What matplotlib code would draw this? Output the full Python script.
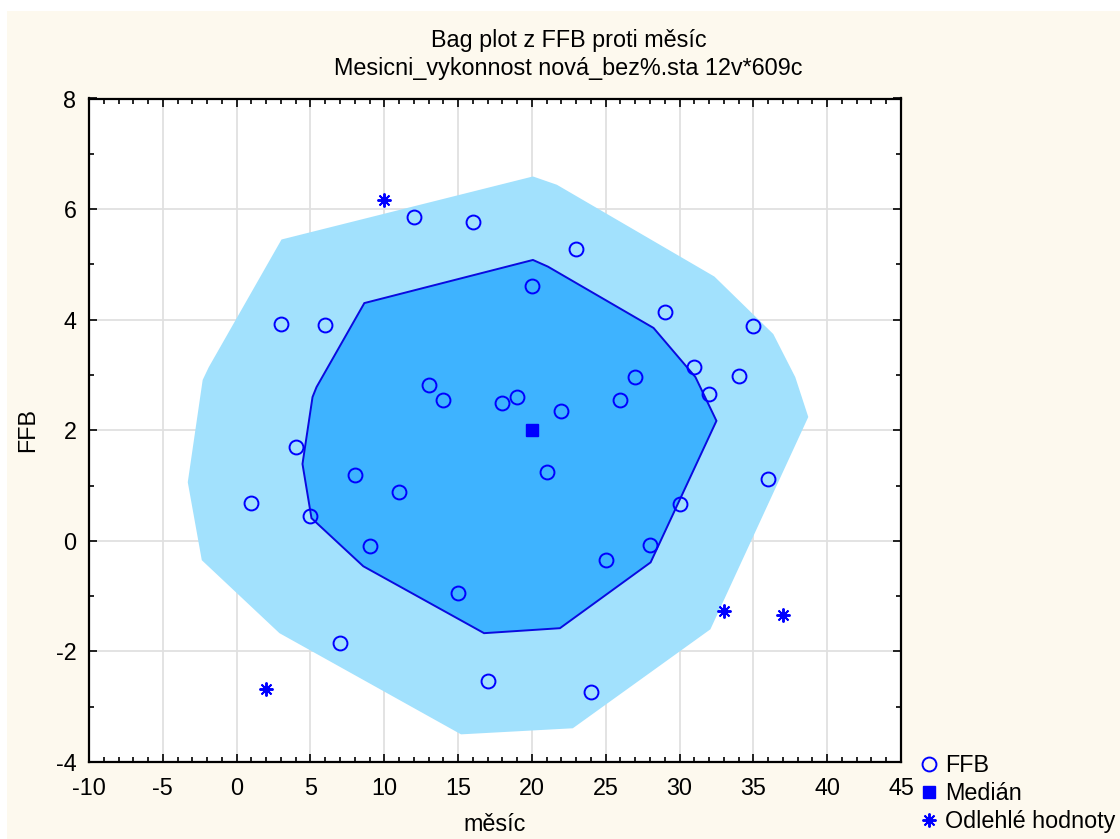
import matplotlib
matplotlib.use("Agg")
import matplotlib.pyplot as plt
from matplotlib.lines import Line2D
from matplotlib.patches import Polygon, Rectangle
from matplotlib.ticker import MultipleLocator
import numpy as np

# ---- data -------------------------------------------------------------
mesic = list(range(1, 38))
ffb = [0.69, -2.68, 3.92, 1.70, 0.45, 3.91, -1.84, 1.19, -0.09, 6.16,
       0.88, 5.85, 2.81, 2.55, -0.95, 5.77, -2.54, 2.50, 2.60, 4.61,
       1.25, 2.34, 5.27, -2.74, -0.34, 2.54, 2.96, -0.07, 4.13, 0.66,
       3.15, 2.65, -1.26, 2.98, 3.89, 1.12, -1.35]
odlehle_mesice = [2, 10, 33, 37]
median_xy = (20, 2.0)

# bag (inner hull) vertices
bag_x = [8.65, 20.07, 21.08, 28.24, 31.08, 32.50, 28.04, 21.90, 16.76,
         8.58, 5.07, 4.46, 5.14, 5.41]
bag_y = [4.30, 5.08, 4.96, 3.85, 2.96, 2.17, -0.39, -1.58, -1.67,
         -0.46, 0.41, 1.39, 2.60, 2.78]

# fence (outer hull) vertices
fence_x = [3.04, 20.07, 21.69, 32.36, 36.35, 37.84, 38.72, 32.09, 22.77,
           15.20, 2.90, -2.36, -3.31, -2.30, -1.89]
fence_y = [5.45, 6.59, 6.44, 4.78, 3.74, 2.96, 2.24, -1.60, -3.39,
           -3.50, -1.67, -0.35, 1.06, 2.91, 3.14]

x_ticks = list(range(-10, 46, 5))
y_ticks = list(range(-4, 9, 2))

# ---- styling ----------------------------------------------------------
plt.rcParams['font.family'] = ['Liberation Sans', 'DejaVu Sans']
plt.rcParams['axes.unicode_minus'] = False
FS = 16.8
BG = '#FDF9EE'
BLUE = '#0000FF'
OUTER = '#A2E1FD'
INNER = '#3EB3FF'

fig = plt.figure(figsize=(11.2, 8.39), dpi=100)
fig.patch.set_facecolor('white')
fig.patches.append(Rectangle((7 / 1120, 0), 1, 1 - 11 / 839,
                             transform=fig.transFigure, facecolor=BG,
                             edgecolor='none', zorder=-10))

ax = fig.add_axes([89 / 1120, 1 - 762 / 839, (901 - 89) / 1120, (762 - 98.5) / 839])
ax.set_facecolor('white')
ax.set_xlim(-10, 45)
ax.set_ylim(-4, 8)
ax.set_axisbelow(True)
ax.grid(True, color='#E0E0E0', linewidth=1.3)

ax.add_patch(Polygon(np.column_stack([fence_x, fence_y]), closed=True,
                     facecolor=OUTER, edgecolor='none', zorder=1))
ax.add_patch(Polygon(np.column_stack([bag_x, bag_y]), closed=True,
                     facecolor=INNER, edgecolor='#0A0AE0', linewidth=1.4, zorder=2))

mesic_arr = np.array(mesic)
ffb_arr = np.array(ffb)
is_out = np.isin(mesic_arr, odlehle_mesice)

ax.plot(mesic_arr[~is_out], ffb_arr[~is_out], linestyle='none', marker='o',
        markersize=10, markerfacecolor='none', markeredgecolor=BLUE,
        markeredgewidth=1.4, zorder=4)
ax.plot([median_xy[0]], [median_xy[1]], linestyle='none', marker='s',
        markersize=9, color=BLUE, zorder=4)
ax.plot(mesic_arr[is_out], ffb_arr[is_out], linestyle='none', marker=(8, 2, 0),
        markersize=10, markeredgecolor=BLUE, markeredgewidth=1.4, zorder=4)

ax.set_xticks(x_ticks)
ax.set_yticks(y_ticks)
ax.xaxis.set_minor_locator(MultipleLocator(1))
ax.yaxis.set_minor_locator(MultipleLocator(1))
ax.tick_params(which='both', direction='in', top=True, right=True,
               labelsize=FS, color='black', width=1.2)
ax.tick_params(axis='x', which='both', pad=11)
ax.tick_params(axis='y', which='both', pad=9)
ax.tick_params(which='major', length=6)
ax.tick_params(which='minor', length=3.5)
for s in ax.spines.values():
    s.set_linewidth(1.6)
    s.set_color('black')

ax.set_xlabel('měsíc', fontsize=FS, labelpad=9)
ax.set_ylabel('FFB', fontsize=FS, labelpad=12)

fig.text(569 / 1120, 1 - 41 / 839, 'Bag plot z FFB proti měsíc',
         ha='center', va='center', fontsize=FS)
fig.text(568 / 1120, 1 - 69 / 839, 'Mesicni_vykonnost nová_bez%.sta 12v*609c',
         ha='center', va='center', fontsize=FS)

handles = [
    Line2D([], [], linestyle='none', marker='o', markersize=10,
           markerfacecolor='none', markeredgecolor=BLUE, markeredgewidth=1.4),
    Line2D([], [], linestyle='none', marker='s', markersize=9, color=BLUE),
    Line2D([], [], linestyle='none', marker=(8, 2, 0), markersize=10,
           markeredgecolor=BLUE, markeredgewidth=1.4),
]
fig.legend(handles, ['FFB', 'Medián', 'Odlehlé hodnoty'],
           loc='upper left', bbox_to_anchor=(917 / 1120, 1 - 754 / 839),
           frameon=False, fontsize=FS, handlelength=1.0, handletextpad=0.2,
           labelspacing=0.22, borderpad=0, borderaxespad=0)

fig.savefig('out.png', dpi=100, facecolor=fig.get_facecolor())
